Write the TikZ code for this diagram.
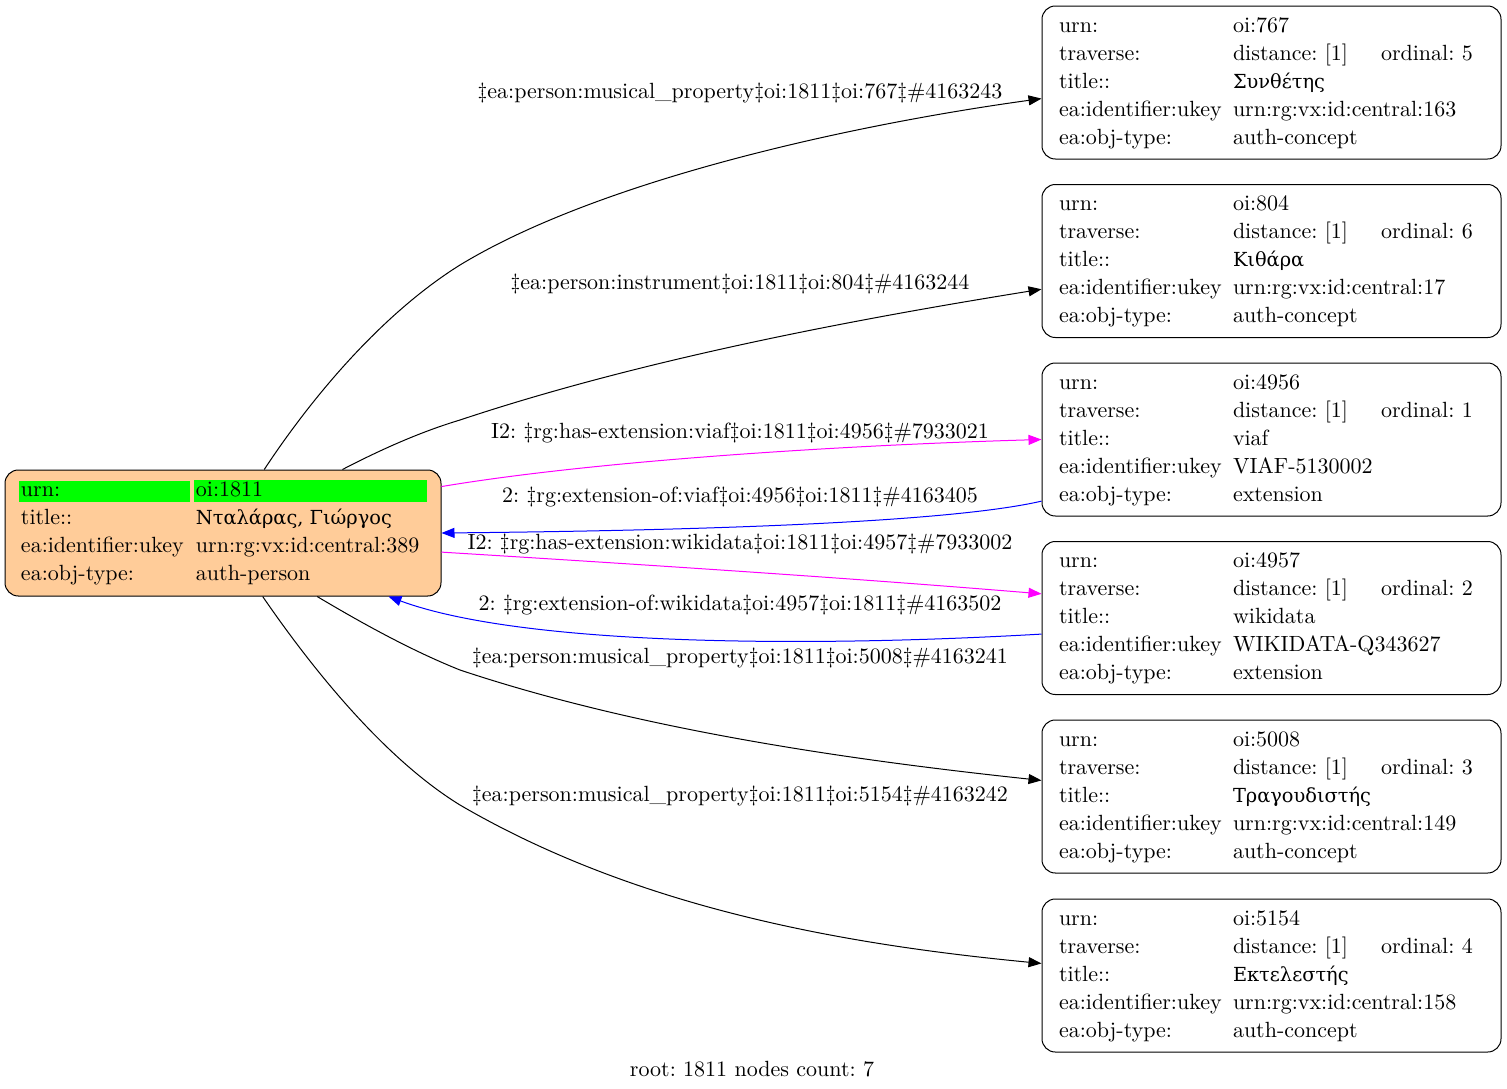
\documentclass[tikz,border=0pt]{standalone}
\usepackage{fontspec}
\setmainfont{lmroman10-regular.otf}
\newfontfamily\greekfont[Scale=0.88]{DejaVu Serif}
\usetikzlibrary{arrows.meta}
\definecolor{rootpeach}{HTML}{FFCC99}
\definecolor{urngreen}{HTML}{00FF00}
\definecolor{extmagenta}{HTML}{FF00FF}
\definecolor{extblue}{HTML}{0000FF}
\newcommand\recfont{\fontsize{16.5}{21}\selectfont\frenchspacing}
\newcommand\urncell[2]{\hspace*{-1.5pt}\setlength{\fboxsep}{1.5pt}\colorbox{urngreen}{\makebox[#1][l]{\rule[-2.75pt]{0pt}{13pt}#2}}}
\newcommand\ca[1]{\makebox[130.5pt][l]{#1}}
\newcommand\cb[1]{\makebox[111pt][l]{#1}}
\newcommand\cc[1]{\makebox[77.25pt][l]{#1}}
\newcommand\conceptrec[5]{\begin{tabular}{@{}l@{}l@{}l@{}}
\ca{urn:} & \cb{#1} & \cc{}\\ \ca{traverse:} & \cb{distance: [1]} & \cc{ordinal: #2}\\ \ca{title::} & \cb{#3} & \cc{}\\
\ca{ea:identifier:ukey} & \cb{#4} & \cc{}\\ \ca{ea:obj-type:} & \cb{#5} & \cc{}\end{tabular}}
\tikzset{
  recnode/.style={draw, line width=0.75pt, rounded corners=10pt, inner xsep=12.75pt, inner ysep=4.875pt,
    minimum width=344.25pt, minimum height=114.75pt, font=\recfont},
  rootnode/.style={recnode, fill=rootpeach, inner xsep=12pt, inner ysep=5.25pt,
    minimum width=327pt, minimum height=94.5pt},
  edgelabel/.style={font=\recfont, inner sep=0pt},
  edge/.style={line width=0.75pt, -{Triangle[length=9.75pt,width=7.5pt]}}
}
\begin{document}
\begin{tikzpicture}[x=0.75pt,y=-0.75pt]
%\draw[help lines](0,0) grid (1507,1089);
\useasboundingbox (0,0) rectangle (1507,1089);

\node[rootnode] (root) at (223,533) {\begin{tabular}{@{}l@{}l@{}}
\makebox[131.25pt][l]{\urncell{125.25pt}{urn:}} & \makebox[171.75pt][l]{\urncell{171.75pt}{oi:1811}}\\
title:: & {\greekfont Νταλάρας, Γιώργος}\\
ea:identifier:ukey & urn:rg:vx:id:central:389\\
ea:obj-type: & auth-person\end{tabular}}; % raiz

\node[recnode] (n767) at (1271.5,82.5) {\conceptrec{oi:767}{5}{\greekfont Συνθέτης}{urn:rg:vx:id:central:163}{auth-concept}}; % nodo 767
\node[recnode] (n804) at (1271.5,261) {\conceptrec{oi:804}{6}{\greekfont Κιθάρα}{urn:rg:vx:id:central:17}{auth-concept}}; % nodo 804
\node[recnode] (n4956) at (1271.5,439.5) {\conceptrec{oi:4956}{1}{viaf}{VIAF-5130002}{extension}}; % nodo 4956
\node[recnode] (n4957) at (1271.5,618) {\conceptrec{oi:4957}{2}{wikidata}{WIKIDATA-Q343627}{extension}}; % nodo 4957
\node[recnode] (n5008) at (1271.5,796.5) {\conceptrec{oi:5008}{3}{\greekfont Τραγουδιστής}{urn:rg:vx:id:central:149}{auth-concept}}; % nodo 5008
\node[recnode] (n5154) at (1271.5,975.5) {\conceptrec{oi:5154}{4}{\greekfont Εκτελεστής}{urn:rg:vx:id:central:158}{auth-concept}}; % nodo 5154

\draw[edge] (root.57.6) .. controls (310,400) and (380,315) .. (460,265) .. controls (600,180) and (850,125) .. (n767.184.1); % arista 767
\draw[edge] (root.28.3) .. controls (380,450) and (420,432) .. (460,420) .. controls (640,360) and (850,320) .. (n804.187.4); % arista 804
\draw[edge,extmagenta] (root.12.2) .. controls (600,460) and (850,445) .. (n4956.180.6); % arista 4956 ida
\draw[edge,extblue] (n4956.195.9) .. controls (960,520) and (750,530) .. (root.0.3); % arista 4956 vuelta
\draw[edge,extmagenta] (root.-5.2) .. controls (650,565) and (850,578) .. (n4957.174); % arista 4957 ida
\draw[edge,extblue] (n4957.184.7) .. controls (800,648) and (520,645) .. (root.-21.8); % arista 4957 vuelta
\draw[edge] (root.-34.4) .. controls (360,622) and (410,650) .. (460,670) .. controls (640,730) and (850,760) .. (n5008.176.4); % arista 5008
\draw[edge] (root.-58.2) .. controls (320,680) and (390,762) .. (460,805) .. controls (640,910) and (850,945) .. (n5154.177.6); % arista 5154

\node[edgelabel] (l767) at (740,93) {‡ea:person:musical\_property‡oi:1811‡oi:767‡\#4163243};
\node[edgelabel] (l804) at (740,284) {‡ea:person:instrument‡oi:1811‡oi:804‡\#4163244};
\node[edgelabel] (l4956a) at (740,433) {I2: ‡rg:has-extension:viaf‡oi:1811‡oi:4956‡\#7933021};
\node[edgelabel] (l4956b) at (740,497) {2: ‡rg:extension-of:viaf‡oi:4956‡oi:1811‡\#4163405};
\node[edgelabel] (l4957a) at (740,544) {I2: ‡rg:has-extension:wikidata‡oi:1811‡oi:4957‡\#7933002};
\node[edgelabel] (l4957b) at (740,605) {2: ‡rg:extension-of:wikidata‡oi:4957‡oi:1811‡\#4163502};
\node[edgelabel] (l5008) at (740,658) {‡ea:person:musical\_property‡oi:1811‡oi:5008‡\#4163241};
\node[edgelabel] (l5154) at (740,796) {‡ea:person:musical\_property‡oi:1811‡oi:5154‡\#4163242};

\node[edgelabel] (caption) at (752,1069) {root: 1811 nodes count: 7}; % pie
\end{tikzpicture}
\end{document}
